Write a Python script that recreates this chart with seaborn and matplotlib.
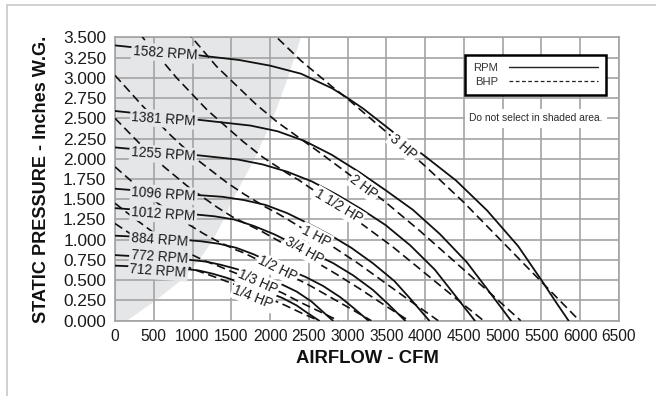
import matplotlib
matplotlib.use("Agg")
import matplotlib.pyplot as plt
import seaborn as sns
from matplotlib.patches import Rectangle
from matplotlib.lines import Line2D

# ---------------- data ----------------
x_ticks = [0, 500, 1000, 1500, 2000, 2500, 3000, 3500, 4000, 4500, 5000, 5500, 6000, 6500]
y_ticks = [0.0, 0.25, 0.5, 0.75, 1.0, 1.25, 1.5, 1.75, 2.0, 2.25, 2.5, 2.75, 3.0, 3.25, 3.5]

# fan curves (solid) : airflow CFM / static pressure in. W.G.
rpm1582_cfm = [0, 600, 1140, 1600, 2000, 2400, 2800, 3000, 3200, 3600, 4000, 4400, 4800, 5200, 5500, 5700, 5850]
rpm1582_sp = [3.40, 3.34, 3.27, 3.22, 3.15, 3.05, 2.87, 2.75, 2.62, 2.32, 2.03, 1.73, 1.36, 0.92, 0.50, 0.21, 0.0]
rpm1381_cfm = [0, 995, 1746, 2095, 2444, 2793, 3143, 3492, 3841, 4190, 4539, 4801, 5107]
rpm1381_sp = [2.59, 2.49, 2.41, 2.34, 2.22, 2.05, 1.84, 1.61, 1.37, 1.07, 0.72, 0.39, 0.0]
rpm1255_cfm = [0, 904, 1587, 1904, 2221, 2539, 2856, 3173, 3491, 3808, 4125, 4363, 4641]
rpm1255_sp = [2.14, 2.06, 1.99, 1.93, 1.84, 1.72, 1.56, 1.38, 1.18, 0.93, 0.63, 0.34, 0.0]
rpm1096_cfm = [0, 790, 1386, 1663, 1940, 2217, 2494, 2771, 3048, 3325, 3603, 3810, 4053]
rpm1096_sp = [1.63, 1.57, 1.53, 1.49, 1.43, 1.33, 1.20, 1.06, 0.90, 0.71, 0.49, 0.27, 0.0]
rpm1012_cfm = [0, 729, 1279, 1535, 1791, 2047, 2303, 2559, 2815, 3071, 3326, 3518, 3742]
rpm1012_sp = [1.39, 1.34, 1.29, 1.25, 1.17, 1.07, 0.95, 0.83, 0.71, 0.56, 0.38, 0.21, 0.0]
rpm884_cfm = [0, 637, 1118, 1341, 1565, 1788, 2012, 2235, 2459, 2682, 2906, 3073, 3269]
rpm884_sp = [1.05, 1.02, 0.98, 0.95, 0.90, 0.82, 0.72, 0.63, 0.54, 0.43, 0.29, 0.16, 0.0]
rpm772_cfm = [0, 556, 976, 1171, 1366, 1562, 1757, 1952, 2147, 2342, 2530, 2670, 2810]
rpm772_sp = [0.81, 0.78, 0.75, 0.73, 0.69, 0.64, 0.58, 0.52, 0.45, 0.36, 0.24, 0.12, 0.0]
rpm712_cfm = [0, 513, 900, 1080, 1260, 1440, 1620, 1800, 1980, 2160, 2340, 2475, 2633]
rpm712_sp = [0.68, 0.66, 0.64, 0.62, 0.58, 0.53, 0.47, 0.41, 0.35, 0.28, 0.19, 0.10, 0.0]

# brake horsepower lines (dashed)
hp3_cfm = [0, 500, 1000, 1500, 2085, 2400, 2800, 3000, 3500, 4000, 4500, 5000, 5500, 5990]
hp3_sp = [6.25, 5.48, 4.76, 4.12, 3.50, 3.21, 2.89, 2.74, 2.33, 1.91, 1.46, 0.97, 0.48, 0.0]
hp2_cfm = [0, 437, 874, 1310, 1821, 2097, 2446, 2621, 3058, 3494, 3931, 4368, 4805, 5233]
hp2_sp = [4.77, 4.18, 3.63, 3.14, 2.67, 2.45, 2.21, 2.09, 1.78, 1.46, 1.11, 0.74, 0.37, 0.0]
hp1_5_cfm = [0, 397, 794, 1191, 1655, 1905, 2222, 2381, 2778, 3175, 3572, 3969, 4365, 4754]
hp1_5_sp = [3.94, 3.45, 3.00, 2.60, 2.21, 2.02, 1.82, 1.73, 1.47, 1.20, 0.92, 0.61, 0.30, 0.0]
hp1_cfm = [0, 348, 696, 1044, 1451, 1670, 1949, 2088, 2436, 2784, 3132, 3480, 3828, 4169]
hp1_sp = [3.03, 2.66, 2.31, 2.00, 1.70, 1.56, 1.40, 1.33, 1.13, 0.93, 0.71, 0.47, 0.23, 0.0]
hp3_4_cfm = [0, 316, 633, 949, 1319, 1518, 1771, 1898, 2214, 2530, 2846, 3163, 3479, 3789]
hp3_4_sp = [2.50, 2.19, 1.90, 1.65, 1.40, 1.28, 1.16, 1.10, 0.93, 0.76, 0.58, 0.39, 0.19, 0.0]
hp1_2_cfm = [0, 276, 552, 828, 1151, 1325, 1546, 1656, 1932, 2208, 2484, 2760, 3036, 3306]
hp1_2_sp = [1.90, 1.67, 1.45, 1.26, 1.07, 0.98, 0.88, 0.84, 0.71, 0.58, 0.45, 0.30, 0.15, 0.0]
hp1_3_cfm = [0, 241, 481, 722, 1003, 1154, 1347, 1443, 1684, 1924, 2165, 2405, 2646, 2881]
hp1_3_sp = [1.45, 1.27, 1.10, 0.95, 0.81, 0.74, 0.67, 0.63, 0.54, 0.44, 0.34, 0.22, 0.11, 0.0]
hp1_4_cfm = [0, 220, 439, 659, 915, 1054, 1229, 1317, 1537, 1756, 1976, 2195, 2415, 2630]
hp1_4_sp = [1.20, 1.06, 0.92, 0.79, 0.67, 0.62, 0.56, 0.53, 0.45, 0.37, 0.28, 0.19, 0.09, 0.0]

# boundary of the shaded "do not select" area
shade_sp = [0.0, 0.25, 0.5, 0.75, 1.0, 1.25, 1.5, 1.75, 2.0, 2.5, 3.0, 3.5]
shade_cfm = [140, 510, 840, 1075, 1255, 1390, 1510, 1650, 1790, 2030, 2220, 2390]

rpm_names = ["1582 RPM", "1381 RPM", "1255 RPM", "1096 RPM", "1012 RPM", "884 RPM", "772 RPM", "712 RPM"]
hp_names = ["3 HP", "2 HP", "1 1/2 HP", "1 HP", "3/4 HP", "1/2 HP", "1/3 HP", "1/4 HP"]

rpm_series = [(rpm1582_cfm, rpm1582_sp), (rpm1381_cfm, rpm1381_sp), (rpm1255_cfm, rpm1255_sp),
              (rpm1096_cfm, rpm1096_sp), (rpm1012_cfm, rpm1012_sp), (rpm884_cfm, rpm884_sp),
              (rpm772_cfm, rpm772_sp), (rpm712_cfm, rpm712_sp)]
hp_series = [(hp3_cfm, hp3_sp), (hp2_cfm, hp2_sp), (hp1_5_cfm, hp1_5_sp), (hp1_cfm, hp1_sp),
             (hp3_4_cfm, hp3_4_sp), (hp1_2_cfm, hp1_2_sp), (hp1_3_cfm, hp1_3_sp), (hp1_4_cfm, hp1_4_sp)]

# label anchor positions (cfm, in. W.G.) and angles
rpm_label_pos = [(230, 3.335), (215, 2.52), (205, 2.08), (215, 1.59), (210, 1.345), (205, 1.017), (205, 0.81), (190, 0.638)]
hp_label_pos = [(3718, 2.15), (3211, 1.65), (2889, 1.41), (2590, 1.04), (2437, 0.87), (2096, 0.64), (1845, 0.48), (1780, 0.29)]
hp_label_rot = [-41, -37, -31, -28, -29, -26, -24, -22]

# ---------------- drawing ----------------
sns.set_theme(style="whitegrid")
plt.rcParams["font.family"] = ["Liberation Sans", "DejaVu Sans"]

fig = plt.figure(figsize=(6.56, 3.96), dpi=100)
fig.patch.set_facecolor("white")
ax = fig.add_axes([115 / 656, 75.3 / 396, 504 / 656, 283.4 / 396])
ax.set_facecolor("white")
ax.set_axisbelow(True)

ax.fill_betweenx(shade_sp, 0, shade_cfm, color="#e5e6e8", lw=0, zorder=0)

line_color = "#111111"
for x, y in rpm_series:
    sns.lineplot(x=x, y=y, ax=ax, color=line_color, lw=1.3, estimator=None,
                 sort=False, zorder=3)
for x, y in hp_series:
    sns.lineplot(x=x, y=y, ax=ax, color=line_color, lw=1.2, estimator=None,
                 sort=False, zorder=3, linestyle=(0, (5.2, 2.8)))

for name, (lx, ly) in zip(rpm_names, rpm_label_pos):
    ax.text(lx, ly, name, ha="left", va="center", rotation=-4, rotation_mode="anchor",
            fontsize=9.8, color="#1a1a1a", zorder=5,
            bbox=dict(boxstyle="square,pad=0.12", fc="#e5e6e8", ec="none"))
for name, (lx, ly), rot in zip(hp_names, hp_label_pos, hp_label_rot):
    ax.text(lx, ly, name, ha="center", va="center", rotation=rot, rotation_mode="anchor",
            fontsize=9.8, color="#1a1a1a", zorder=5,
            bbox=dict(boxstyle="square,pad=0.12", fc="white", ec="none"))

ax.text(5430, 2.5, "Do not select in shaded area.", ha="center", va="center",
        fontsize=7.4, color="#2a2a2a", zorder=5,
        bbox=dict(boxstyle="square,pad=0.45", fc="white", ec="none"))

ax.set_xlim(0, 6500)
ax.set_ylim(0, 3.5)
ax.set_xticks(x_ticks)
ax.set_xticklabels([str(v) for v in x_ticks], fontfamily=["Liberation Sans Narrow", "Liberation Sans"],
                   fontsize=11.2, color="#1a1a1a")
ax.set_yticks(y_ticks)
ax.set_yticklabels([f"{v:.3f}" for v in y_ticks], fontsize=12.4, color="#1a1a1a")
ax.tick_params(axis="both", length=0)
ax.tick_params(axis="y", pad=6.3)
ax.tick_params(axis="x", pad=6.0)
ax.grid(True, color="#a3a3a3", lw=1.2)
for s in ax.spines.values():
    s.set_color("#a3a3a3")
    s.set_linewidth(1.2)

ax.set_xlabel("AIRFLOW - CFM", fontsize=13.3, fontweight="bold", color="#111111")
ax.set_ylabel("STATIC PRESSURE - Inches W.G.", fontsize=13.1, fontweight="bold", color="#111111")
ax.xaxis.set_label_coords(0.5, -0.103)
ax.yaxis.set_label_coords(-0.129, 0.5)

handles = [Line2D([], [], color="#222222", lw=1.0),
           Line2D([], [], color="#222222", lw=0.9, linestyle=(0, (3, 2)))]
leg = ax.legend(handles, ["RPM", "BHP"], loc="upper left",
                bbox_to_anchor=(465 / 656, 1 - 55 / 396), bbox_transform=fig.transFigure,
                borderaxespad=0, markerfirst=False, handlelength=7.9, handletextpad=1.0,
                fontsize=8.1, frameon=True, fancybox=False, borderpad=0.7, labelspacing=0.35,
                framealpha=1)
leg.get_frame().set_edgecolor("black")
leg.get_frame().set_linewidth(1.8)
for t in leg.get_texts():
    t.set_color("#333333")

fig.patches.append(Rectangle((6.5 / 656, -0.2), 1.5, 1.2 - 4.5 / 396, transform=fig.transFigure,
                             fill=False, ec="#c8c8c8", lw=1.2))

fig.savefig("out.png", dpi=100)
